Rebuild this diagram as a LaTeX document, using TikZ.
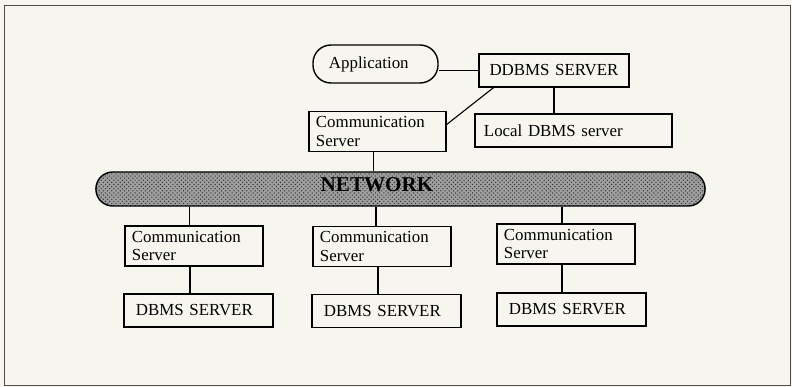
\documentclass[tikz,border=0pt]{standalone}
\usepackage{fontspec}
\setmainfont{Liberation Serif}
\usetikzlibrary{calc,patterns}
\definecolor{paper}{RGB}{246,245,238}

\begin{document}
\begin{tikzpicture}[x=0.025cm,y=-0.025cm,
  font=\fontsize{12}{13}\selectfont,
  box/.style={draw,line width=1pt,inner ysep=0pt,align=left},
  commbox/.style={box,minimum height=1cm,text width=3.1cm,inner xsep=0.175cm},
  dbmsbox/.style={box,minimum height=0.825cm,text width=3.125cm,inner xsep=0.3cm},
  link/.style={line width=0.8pt}]
  \useasboundingbox[fill=paper] (0,0) rectangle (792,387);
  \draw[black!70,line width=0.7pt] (4,5) rectangle (790,385);

  % upper site
  \node[box,rounded corners=0.45cm,minimum height=0.95cm,text width=2.325cm,inner xsep=0.4cm] (app) at (375.5,64) {Application};
  \node[box,align=center,minimum height=0.825cm,text width=3.35cm,inner xsep=0.2cm] (ddbms) at (554,70.5) {DDBMS SERVER};
  \node[commbox,text width=3.075cm] (comm0) at (377.5,131.5) {Communication\\Server};
  \node[box,minimum height=0.825cm,text width=4.475cm,inner xsep=0.225cm] (local) at (573.5,130.5) {Local DBMS server};

  % network
  \node[draw,line width=1pt,rounded corners=0.42cm,minimum width=15.225cm,minimum height=0.85cm,inner sep=0pt,
        preaction={fill=black!38},pattern=crosshatch dots,pattern color=black!80] (net) at (400.5,189) {};
  \node[font=\fontsize{15}{18}\selectfont\bfseries] (netlabel) at (377,185) {NETWORK};

  % remote sites
  \node[commbox] (comm1) at (194,246) {Communication\\Server};
  \node[commbox] (comm2) at (382,246.5) {Communication\\Server};
  \node[commbox] (comm3) at (566,244) {Communication\\Server};
  \node[dbmsbox] (dbms1) at (198.5,310.5) {DBMS SERVER};
  \node[dbmsbox] (dbms2) at (386.5,311) {DBMS SERVER};
  \node[dbmsbox] (dbms3) at (571.5,309.5) {DBMS SERVER};

  \draw[link] (ddbms.west) -- (ddbms.west -| app.east);
  \draw[link] ($(comm0.north east)!0.33!(comm0.south east)$) -- ($(ddbms.south west)!0.1!(ddbms.south east)$);
  \draw[link] (ddbms.south) -- (ddbms.south |- local.north);
  \draw[link] ([xshift=-0.09cm]comm0.south) -- ([xshift=-0.09cm]comm0.south |- net.north);
  \draw[link] ([xshift=-0.12cm]comm1.north) -- ([xshift=-0.12cm]comm1.north |- net.south);
  \draw[link] ([xshift=-0.15cm]comm2.north) -- ([xshift=-0.15cm]comm2.north |- net.south);
  \draw[link] ([xshift=-0.1cm]comm3.north) -- ([xshift=-0.1cm]comm3.north |- net.south);
  \draw[link] ([xshift=-0.1cm]comm1.south) -- ([xshift=-0.1cm]comm1.south |- dbms1.north);
  \draw[link] ([xshift=-0.1cm]comm2.south) -- ([xshift=-0.1cm]comm2.south |- dbms2.north);
  \draw[link] ([xshift=-0.1cm]comm3.south) -- ([xshift=-0.1cm]comm3.south |- dbms3.north);
\end{tikzpicture}
\end{document}
